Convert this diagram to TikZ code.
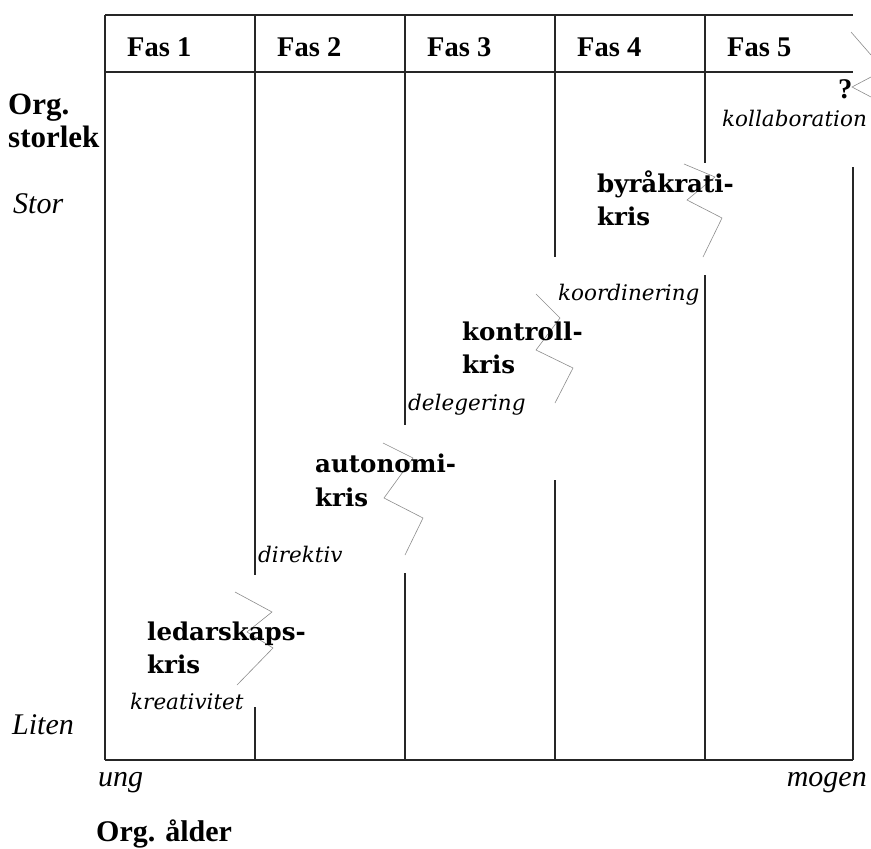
\documentclass[tikz,border=0pt]{standalone}
\usepackage{fontspec}
\setmainfont{Liberation Serif}
\newfontfamily\crisisfont{DejaVu Serif}
\tikzset{
  frameline/.style={line width=1.8pt, draw=black!85},
  zig/.style={line width=0.6pt, draw=black!45},
  fas/.style={anchor=base west, inner sep=0pt, font=\fontsize{28.5}{30}\selectfont\bfseries},
  axlab/.style={anchor=base west, inner sep=0pt, font=\fontsize{31}{33}\selectfont\bfseries},
  endlab/.style={anchor=base west, inner sep=0pt, font=\fontsize{30}{32}\selectfont\itshape},
  crisis/.style={anchor=base west, inner sep=0pt, font=\crisisfont\fontsize{24.5}{26}\selectfont\bfseries},
  mode/.style={anchor=base west, inner sep=0pt, font=\crisisfont\fontsize{21.5}{23}\selectfont\itshape},
}
\begin{document}
\begin{tikzpicture}[x=1pt,y=-1pt]
\useasboundingbox (0,0) rectangle (871,849);
% frame
\draw[frameline] (105,15) -- (853,15);
\draw[frameline] (105,72) -- (853,72);
\draw[frameline] (105,760) -- (853,760);
\draw[frameline] (105,15) -- (105,760);
\draw[frameline] (255,15) -- (255,575);
\draw[frameline] (255,707) -- (255,760);
\draw[frameline] (405,15) -- (405,425);
\draw[frameline] (405,573) -- (405,760);
\draw[frameline] (555,15) -- (555,257);
\draw[frameline] (555,480) -- (555,760);
\draw[frameline] (705,15) -- (705,163);
\draw[frameline] (705,275) -- (705,760);
\draw[frameline] (853,167) -- (853,760);
% zigzags
\draw[zig] (235,592) -- (272,612) -- (247,632) -- (273,648) -- (237,685);
\draw[zig] (383,443) -- (413,458) -- (384,498) -- (423,518) -- (405,555);
\draw[zig] (536,294) -- (560,318) -- (536,350) -- (573,368) -- (555,403);
\draw[zig] (684,164) -- (715,177) -- (687,200) -- (722,218) -- (703,257);
\draw[zig] (851,32) -- (871,55);
\draw[zig] (871,77) -- (852,87) -- (871,97);
% header
\node[fas] (f1) at (127,56) {Fas 1};
\node[fas] (f2) at (277,56) {Fas 2};
\node[fas] (f3) at (427,56) {Fas 3};
\node[fas] (f4) at (577,56) {Fas 4};
\node[fas] (f5) at (727,56) {Fas 5};
% axes labels
\node[axlab] (org) at (8,114) {Org.};
\node[axlab] (storlek) at (8,147) {storlek};
\node[endlab] (stor) at (13,213) {Stor};
\node[endlab] (liten) at (12,734) {Liten};
\node[endlab] (ung) at (98,786) {ung};
\node[endlab, anchor=base east] (mogen) at (867,786) {mogen};
\node[axlab, font=\fontsize{30}{32}\selectfont\bfseries] (alder) at (96,841) {Org. ålder};
% crises
\node[fas] (q) at (838,98) {?};
\node[mode] (koll) at (722,126) {kollaboration};
\node[crisis] (byr1) at (597,192) {byråkrati-};
\node[crisis] (byr2) at (597,225) {kris};
\node[mode] (koord) at (558,300) {koordinering};
\node[crisis] (kon1) at (462,340) {kontroll-};
\node[crisis] (kon2) at (462,373) {kris};
\node[mode] (deleg) at (408,410) {delegering};
\node[crisis] (aut1) at (315,472) {autonomi-};
\node[crisis] (aut2) at (315,506) {kris};
\node[mode] (dir) at (258,562) {direktiv};
\node[crisis] (led1) at (147,640) {ledarskaps-};
\node[crisis] (led2) at (147,673) {kris};
\node[mode] (krea) at (130,709) {kreativitet};
\end{tikzpicture}
\end{document}
